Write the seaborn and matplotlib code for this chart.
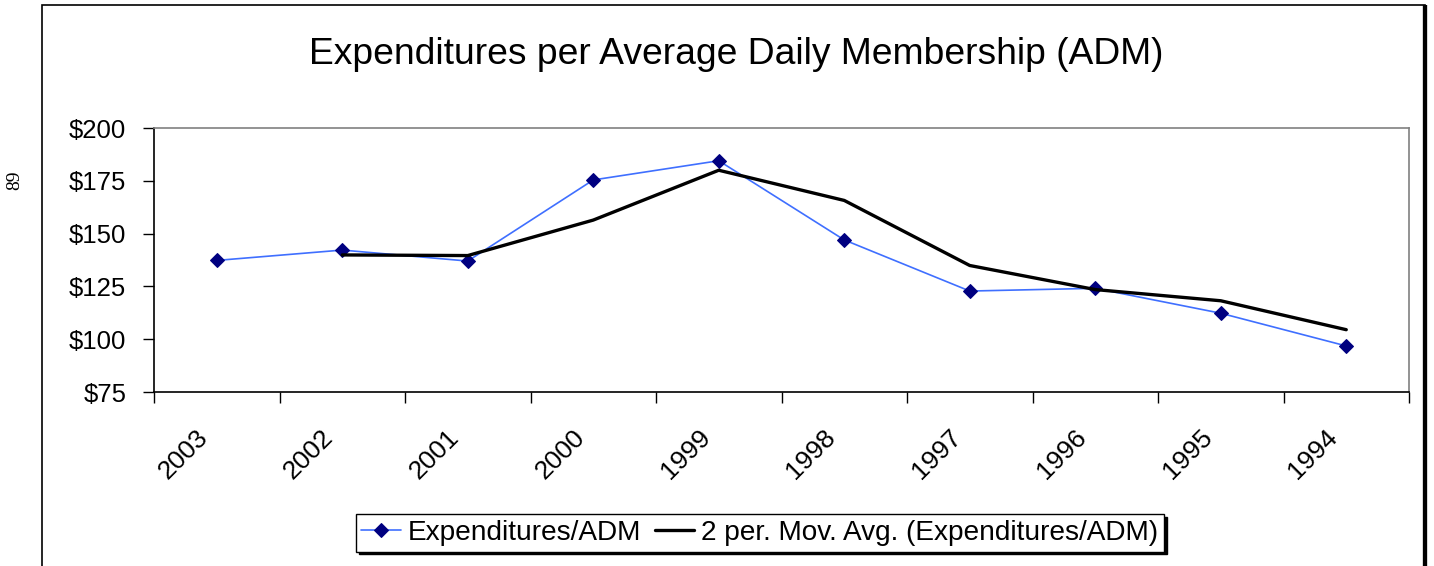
import matplotlib
matplotlib.use("Agg")
import matplotlib.pyplot as plt
import seaborn as sns
import pandas as pd
import numpy as np
from matplotlib.patches import Rectangle

years = ["2003", "2002", "2001", "2000", "1999", "1998", "1997", "1996", "1995", "1994"]
expenditures = [137.3, 142.2, 137.0, 175.4, 184.5, 147.0, 122.8, 124.1, 112.3, 96.8]
mov_avg = [np.nan, 139.9, 139.6, 156.4, 180.0, 165.7, 134.9, 123.5, 118.2, 104.5]
y_ticks = [75, 100, 125, 150, 175, 200]
y_tick_labels = ["$75", "$100", "$125", "$150", "$175", "$200"]

sns.set_theme(style="white")
plt.rcParams['font.family'] = ['Liberation Sans', 'DejaVu Sans']
plt.rcParams['text.color'] = 'black'
plt.rcParams['xtick.color'] = 'black'
plt.rcParams['ytick.color'] = 'black'

df = pd.DataFrame({"pos": np.arange(len(years)), "year": years,
                   "exp": expenditures, "ma": mov_avg})

fig = plt.figure(figsize=(14.34, 5.66), dpi=100)
ax = fig.add_axes([154/1434, 1-392/566, (1409-154)/1434, (392-128)/566])

sns.lineplot(data=df, x="pos", y="exp", ax=ax, color="#3f6fff", lw=1.2,
             marker="D", markersize=7, markerfacecolor="#000080",
             markeredgecolor="#000080", label="Expenditures/ADM")
sns.lineplot(data=df.dropna(), x="pos", y="ma", ax=ax, color="black", lw=2.4,
             label="2 per. Mov. Avg. (Expenditures/ADM)")

ax.set_xlim(-0.5, len(years) - 0.5)
ax.set_ylim(75, 200)
ax.set_xlabel("")
ax.set_ylabel("")
ax.set_xticks(np.arange(len(years) + 1) - 0.5)
ax.set_xticklabels([])
# label anchors sit slightly left of the category centres, as in the original
ax.set_xticks(np.arange(len(years)) - 0.1, minor=True)
ax.set_xticklabels(years, minor=True, rotation=45, ha="right", va="center",
                   rotation_mode="anchor", fontsize=19)
ax.tick_params(axis="x", which="minor", length=0, pad=30)
ax.tick_params(axis="x", which="major", length=8, width=1, color="black", direction="out", bottom=True)
ax.set_yticks(y_ticks)
ax.set_yticklabels(y_tick_labels, fontsize=18.5)
ax.tick_params(axis="y", length=8, width=1, color="black", direction="out", left=True, pad=12)
for s in ["left", "bottom"]:
    ax.spines[s].set_color("black")
    ax.spines[s].set_linewidth(1.2)
for s in ["top", "right"]:
    ax.spines[s].set_color("#808080")
    ax.spines[s].set_linewidth(1.2)

ax.get_legend().remove()
h, l = ax.get_legend_handles_labels()
leg = fig.legend(h, l, loc="center", bbox_to_anchor=(760/1434, 1-533/566), ncol=2,
                 fontsize=20.2, frameon=True, fancybox=False, handlelength=1.4,
                 handletextpad=0.25, columnspacing=0.5, borderpad=0.2,
                 borderaxespad=0.0,
                 shadow={"color": "black", "alpha": 1})
leg.get_frame().set_edgecolor("black")
leg.get_frame().set_linewidth(1.0)

fig.text(736/1434, 1-55/566, "Expenditures per Average Daily Membership (ADM)",
         ha="center", va="center", fontsize=26.8)

fig.text(15/1434, 1-180/566, "89", rotation=90, ha="center", va="center",
         fontsize=14, family=["Liberation Serif", "DejaVu Serif"])

fig.patches.append(Rectangle((42/1434, -0.05), (1425-42)/1434, 1.05 - 5/566,
                             transform=fig.transFigure, fill=False,
                             edgecolor="black", linewidth=1.2))
fig.patches.append(Rectangle((1425/1434, -0.05), 0.0, 1.05 - 5/566,
                             transform=fig.transFigure, fill=False,
                             edgecolor="black", linewidth=3))

fig.savefig("out.png", dpi=100)
